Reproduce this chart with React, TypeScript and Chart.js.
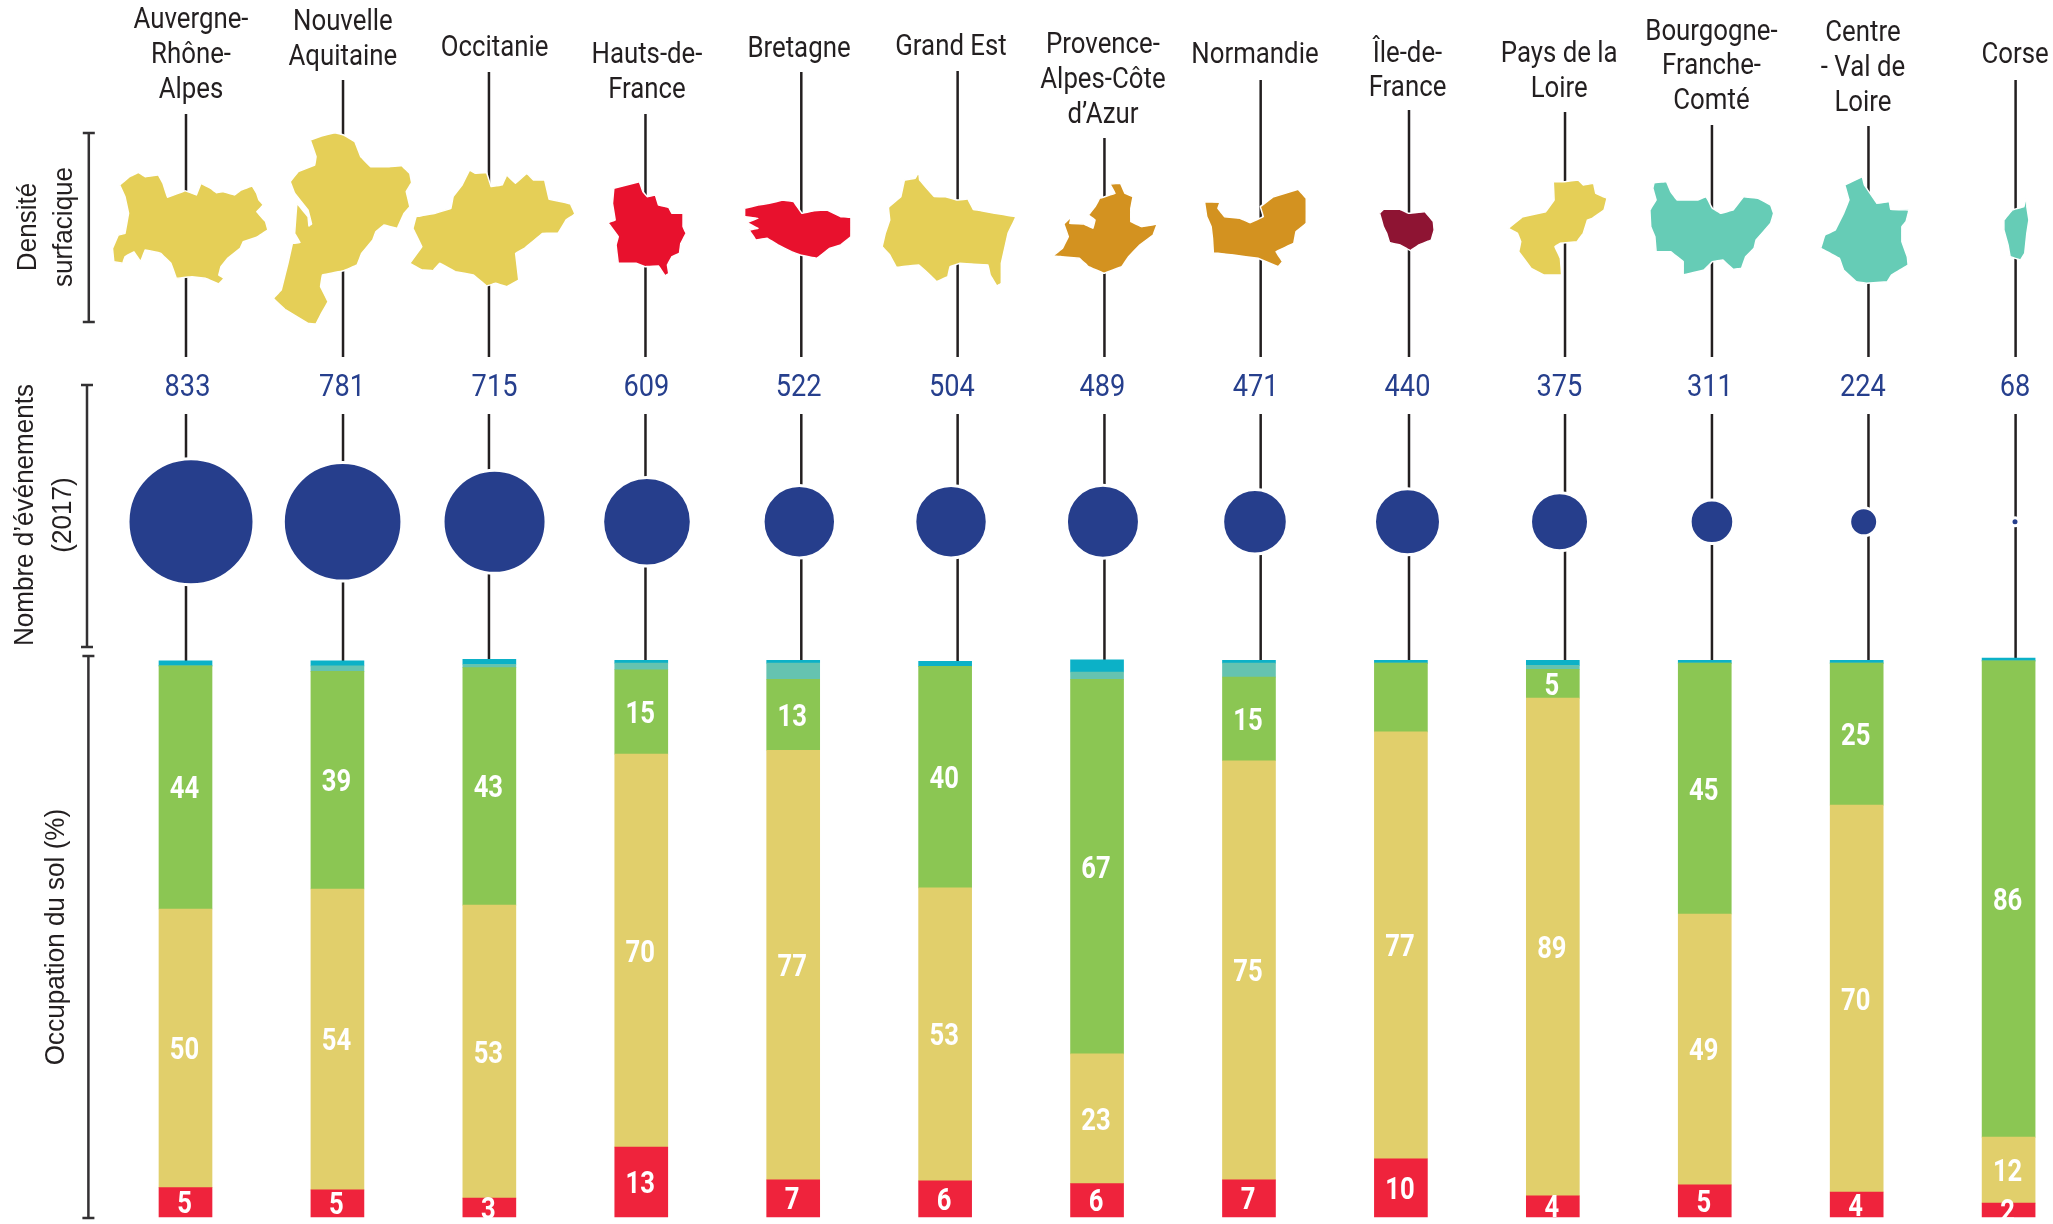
import React, { useEffect, useRef } from "react";
import { Chart, registerables } from "chart.js";

Chart.register(...registerables);

// ---------- data ----------
const regionLines: string[][] = [
  ["Auvergne-", "Rhône-", "Alpes"],
  ["Nouvelle", "Aquitaine"],
  ["Occitanie"],
  ["Hauts-de-", "France"],
  ["Bretagne"],
  ["Grand Est"],
  ["Provence-", "Alpes-Côte", "d’Azur"],
  ["Normandie"],
  ["Île-de-", "France"],
  ["Pays de la", "Loire"],
  ["Bourgogne-", "Franche-", "Comté"],
  ["Centre", "- Val de", "Loire"],
  ["Corse"],
];
const eventCounts = [833, 781, 715, 609, 522, 504, 489, 471, 440, 375, 311, 224, 68];
const eventRadius = [61.5, 57.8, 50, 42.8, 34.7, 34.7, 35, 30.8, 31.5, 27.5, 20.3, 12.5, 2.5];

const urbanValues = [5.3, 4.9, 3.4, 12.6, 6.7, 6.5, 6.0, 6.7, 10.5, 3.8, 5.8, 4.5, 2.5];
const farmValues = [50.2, 54.2, 52.8, 70.8, 77.4, 52.8, 23.4, 75.5, 76.9, 89.7, 48.8, 69.7, 11.9];
const forestValues = [43.8, 39.2, 42.8, 15.2, 12.8, 39.9, 67.5, 15.1, 12.4, 5.2, 45.2, 25.6, 85.8];
const wetValues = [0, 1.0, 0.6, 1.2, 2.9, 0, 1.3, 2.5, 0, 0.7, 0, 0, 0];
const waterValues = [0.9, 0.9, 0.9, 0.5, 0.5, 0.9, 2.2, 0.5, 0.5, 0.9, 0.5, 0.5, 0.5];

const urbanLabels = [5, 5, 3, 13, 7, 6, 6, 7, 10, 4, 5, 4, 2];
const farmLabels = [50, 54, 53, 70, 77, 53, 23, 75, 77, 89, 49, 70, 12];
const forestLabels: (number | null)[] = [44, 39, 43, 15, 13, 40, 67, 15, null, 5, 45, 25, 86];

// Region outlines, as traced on the picture.
type Trace = number[][];
const outlines: Trace[] = [
  [[268,555],[290,530],[310,517],[325,530],[355,525],[365,550],[375,592],[415,572],[440,585],[450,550],[472,565],[485,578],[500,575],[525,585],[540,570],[565,558],[575,580],[580,600],[590,615],[575,635],[595,665],[600,690],[575,712],[545,725],[538,745],[510,775],[495,800],[490,825],[502,835],[490,852],[460,835],[430,830],[395,835],[383,790],[360,760],[345,755],[325,750],[315,785],[300,755],[280,770],[275,790],[255,785],[252,745],[265,705],[280,700],[288,640],[280,590]],
  [[695,420],[720,408],[750,398],[770,405],[795,425],[808,470],[830,500],[870,500],[900,497],[918,520],[922,548],[910,575],[918,620],[905,640],[890,685],[860,675],[842,695],[835,720],[810,760],[800,795],[770,812],[722,825],[718,860],[735,905],[720,940],[708,972],[690,970],[640,930],[612,895],[630,870],[645,790],[655,730],[672,728],[660,700],[665,610],[690,650],[692,678],[698,672],[690,630],[660,580],[650,545],[668,515],[705,495],[708,470]],
  [[1052,510],[1065,520],[1090,518],[1100,560],[1125,555],[1135,525],[1155,550],[1180,520],[1195,540],[1220,540],[1230,598],[1258,605],[1278,612],[1288,642],[1268,660],[1250,700],[1215,700],[1175,745],[1155,760],[1162,840],[1135,860],[1110,850],[1090,858],[1060,825],[1020,815],[985,790],[970,812],[945,810],[918,790],[945,740],[925,685],[932,650],[975,640],[1010,625],[1015,590],[1035,555]],
  [[1375,565],[1432,545],[1440,575],[1450,590],[1468,585],[1475,615],[1498,622],[1505,640],[1530,640],[1530,680],[1537,700],[1525,730],[1522,760],[1505,770],[1495,795],[1498,820],[1490,828],[1475,798],[1445,800],[1425,790],[1385,790],[1380,735],[1385,710],[1362,668],[1378,660],[1372,610]],
  [[100,625],[130,615],[155,610],[185,600],[210,605],[228,640],[255,632],[285,630],[315,650],[338,652],[338,710],[315,735],[290,745],[262,775],[225,765],[205,755],[175,735],[150,715],[125,720],[110,690],[130,685],[105,668],[130,655],[100,650]],
  [[490,515],[492,540],[505,560],[525,590],[550,590],[575,600],[600,597],[612,628],[630,632],[660,640],[708,650],[690,700],[675,790],[675,850],[665,858],[650,825],[645,795],[582,790],[560,800],[555,830],[530,845],[515,825],[490,795],[440,802],[425,765],[408,740],[415,700],[425,660],[422,622],[450,590],[458,540],[482,535]],
  [[918,552],[942,550],[952,580],[970,590],[965,625],[965,665],[990,680],[1024,672],[1015,705],[985,735],[960,770],[945,800],[905,820],[870,800],[850,775],[810,770],[790,768],[812,745],[825,710],[815,672],[832,650],[828,670],[860,672],[880,685],[885,660],[870,645],[885,620],[895,595],[930,580]],
  [[1130,605],[1165,607],[1160,625],[1175,650],[1210,655],[1232,668],[1262,650],[1255,620],[1285,590],[1340,568],[1358,595],[1358,670],[1335,695],[1330,730],[1290,755],[1300,775],[1305,785],[1295,800],[1250,775],[1195,765],[1160,760],[1150,760],[1148,715],[1145,680],[1135,650]],
  [[-49,640],[-40,628],[0,628],[20,640],[60,635],[80,665],[82,690],[75,720],[45,735],[25,752],[0,735],[-25,728],[-32,700],[-40,680]],
  [[368,545],[395,545],[428,540],[440,555],[465,550],[470,580],[497,595],[490,630],[462,655],[450,660],[440,700],[425,725],[385,730],[372,740],[385,775],[388,825],[345,825],[315,805],[285,755],[290,725],[282,700],[260,685],[295,650],[350,635],[370,600]],
  [[610,548],[640,545],[650,575],[665,600],[715,600],[735,590],[750,625],[770,640],[800,630],[825,590],[860,595],[890,615],[897,640],[890,670],[855,720],[850,745],[830,770],[820,805],[800,808],[775,780],[750,785],[730,810],[680,825],[680,785],[650,755],[615,755],[612,710],[602,680],[600,630],[615,600],[607,565]],
  [[1110,530],[1115,555],[1145,610],[1175,605],[1178,628],[1222,630],[1215,665],[1205,680],[1205,725],[1218,770],[1220,795],[1180,825],[1170,845],[1120,850],[1095,845],[1065,810],[1055,775],[1010,745],[1020,705],[1045,690],[1065,640],[1078,600],[1068,555]],
  [[1505,585],[1505,620],[1510,660],[1505,700],[1500,760],[1490,780],[1465,770],[1460,735],[1450,690],[1450,660],[1470,630],[1498,620]],
];

// ---------- layout and styles ----------
const W = 2053;
const H = 1224;
const COL = 151.925;
const FIRST = 185.5;
const TRACE_FRAME = [0, 0, 0, 0, 1, 1, 1, 1, 2, 2, 2, 2, 2];
const FRAME_ORIGIN = [0, 700, 1400];
const FRAME_SCALE = [2.24, 2.24, 2.401];

const connectorNudge = [0.5, 5.6, -0.4, 4.2, 8.1, 12.5, 7.4, 11.7, 8.1, 12.2, 7.2, 11.8, 7];
const connectorTop = [114, 80, 72, 114, 72, 71, 138, 80, 110, 112, 125, 126, 80];
const barTop = [661, 661, 659, 660, 660, 661, 660, 660, 660, 660, 660, 660, 658];
const headNudge = [5.5, 5.4, 5.2, 5.7, 5.8, 5.9, 5.9, 6, 6.6, 6.4, 6.7, 6.3, 6.4];
const countNudge = [2, 4.6, 5.2, 5.1, 5.5, 6.7, 5.3, 6.6, 6.6, 6.6, 5.2, 6.3, 6.4];
const circleNudge = [5.5, 5.2, 5.2, 5.7, 6.1, 5.9, 5.9, 6, 6.6, 6.7, 7.2, 7, 6.4];
const headY: number[][] = [
  [20.5, 55.5, 90.5], [22.5, 57.5], [48], [55.5, 90.5], [49], [47.5], [45.5, 80.5, 115.5], [55.5], [54.5, 88.5], [54.5, 89.5], [32.5, 66.5, 101.5], [33.5, 68.5, 103.5], [55.5],
];
const mapColours = ["#E5CF57", "#E5CF57", "#E5CF57", "#E8112D", "#E8112D", "#E5CF57", "#D39220", "#D39220", "#8E1433", "#E5CF57", "#66CCB6", "#66CCB6", "#66CCB6"];

const INK = "#231F20";
const NAVY = "#263F8D";

const range = eventCounts.map((_, i) => i);

function drawText(ctx: CanvasRenderingContext2D, text: string, x: number, y: number, font: string, color: string, squeeze = 1, rotate = 0, baseline: CanvasTextBaseline = "middle") {
  ctx.save();
  ctx.translate(x, y);
  if (rotate) ctx.rotate(rotate);
  ctx.scale(squeeze, 1);
  ctx.font = font;
  ctx.fillStyle = color;
  ctx.textAlign = "center";
  ctx.textBaseline = baseline;
  ctx.fillText(text, 0, 0);
  ctx.restore();
}

const annotations = {
  id: "annotations",
  afterDatasetsDraw(chart: any) {
    const ctx: CanvasRenderingContext2D = chart.ctx;
    const xs = chart.scales.x;
    const ys = chart.scales.yPage;
    const px = (i: number, nudge: number) => xs.getPixelForValue(i + nudge / COL);

    // Region names and event counts
    range.forEach((i) => {
      regionLines[i].forEach((line, k) => {
        drawText(ctx, line, px(i, headNudge[i]), ys.getPixelForValue(headY[i][k]), "400 30px Roboto", INK, 0.86);
      });
      drawText(ctx, String(eventCounts[i]), px(i, countNudge[i]), ys.getPixelForValue(387.5), "400 32px Roboto", NAVY, 0.85);
    });

    // Segment values
    const rows: [number, (number | null)[]][] = [[0, urbanLabels], [1, farmLabels], [2, forestLabels]];
    rows.forEach(([ds, labels]) => {
      const meta = chart.getDatasetMeta(ds);
      labels.forEach((v, i) => {
        if (v === null) return;
        const bar = meta.data[i];
        drawText(ctx, String(v), bar.x - 1, (bar.y + bar.base) / 2 + 3, "700 32px Roboto", "#FFFFFF", 0.8);
      });
    });

    // Row brackets
    ctx.save();
    ctx.strokeStyle = "#333133";
    ctx.lineWidth = 2.5;
    const bracket = (x: number, top: number, bottom: number) => {
      ctx.beginPath();
      ctx.moveTo(x, top); ctx.lineTo(x, bottom);
      ctx.moveTo(x - 6, top); ctx.lineTo(x + 6, top);
      ctx.moveTo(x - 6, bottom); ctx.lineTo(x + 6, bottom);
      ctx.stroke();
    };
    bracket(88.8, ys.getPixelForValue(133), ys.getPixelForValue(322));
    bracket(87, ys.getPixelForValue(385), ys.getPixelForValue(647));
    bracket(88.4, ys.getPixelForValue(656), ys.getPixelForValue(1218));
    ctx.restore();

    // Row titles
    const titleFont = "400 27px 'Liberation Sans'";
    const up = -Math.PI / 2;
    drawText(ctx, "Densité", 36, 227, titleFont, INK, 0.965, up, "alphabetic");
    drawText(ctx, "surfacique", 72, 227, titleFont, INK, 0.965, up, "alphabetic");
    drawText(ctx, "Nombre d’événements", 33, 515, titleFont, INK, 0.965, up, "alphabetic");
    drawText(ctx, "(2017)", 71, 515, titleFont, INK, 0.965, up, "alphabetic");
    drawText(ctx, "Occupation du sol (%)", 64, 937, titleFont, INK, 0.965, up, "alphabetic");
  },
};

function barSet(label: string, values: number[], color: string) {
  return {
    type: "bar",
    label,
    data: range.map((i) => ({ x: i, y: values[i] })),
    backgroundColor: color,
    borderWidth: 0,
    barThickness: 53,
    xAxisID: "x",
    yAxisID: "y",
    order: 3,
  };
}

export default function App() {
  const ref = useRef<HTMLCanvasElement | null>(null);
  useEffect(() => {
    if (!ref.current) return;
    const connectors = range.map((i) => {
      const x = i + connectorNudge[i] / COL;
      return {
        type: "line",
        data: [
          { x, y: connectorTop[i] },
          { x, y: 357 },
          { x, y: null },
          { x, y: 414 },
          { x, y: barTop[i] },
        ],
        borderColor: INK,
        borderWidth: 2.5,
        pointRadius: 0,
        fill: false,
        xAxisID: "x",
        yAxisID: "yPage",
        order: 5,
      };
    });
    const maps = range.map((i) => {
      const f = TRACE_FRAME[i];
      const pts = outlines[i].map(([a, b]) => ({
        x: (FRAME_ORIGIN[f] + a / FRAME_SCALE[f] - FIRST) / COL,
        y: b / 3,
      }));
      pts.push(pts[0]);
      return {
        type: "line",
        data: pts,
        borderColor: "#FFFFFF",
        borderWidth: 1.5,
        backgroundColor: mapColours[i],
        fill: "shape",
        tension: 0.01,
        pointRadius: 0,
        xAxisID: "x",
        yAxisID: "yPage",
        order: 2,
      };
    });
    const chart = new Chart(ref.current, {
      type: "bar",
      data: {
        datasets: [
          barSet("Territoires artificialisés", urbanValues, "#EF233C"),
          barSet("Territoires agricoles", farmValues, "#E1CF6B"),
          barSet("Forêts et milieux semi-naturels", forestValues, "#8BC653"),
          barSet("Zones humides", wetValues, "#65C3B0"),
          barSet("Surfaces en eau", waterValues, "#0CB1C7"),
          ...connectors,
          ...maps,
          {
            type: "bubble",
            data: range.map((i) => ({ x: i + circleNudge[i] / COL, y: 521.8, r: eventRadius[i] + 1.5 })),
            backgroundColor: "#263E8C",
            borderColor: "#FFFFFF",
            borderWidth: 3,
            xAxisID: "x",
            yAxisID: "yPage",
            order: 1,
          },
        ] as any,
      },
      options: {
        animation: false,
        responsive: false,
        events: [],
        layout: { padding: 0, autoPadding: false },
        plugins: { legend: { display: false }, tooltip: { enabled: false } },
        scales: {
          x: { type: "linear", display: false, stacked: true, offset: false, min: -FIRST / COL, max: (W - FIRST) / COL },
          y: { type: "linear", display: false, stacked: true, min: -(H - 1217) / 5.55, max: 1217 / 5.55 },
          yPage: { type: "linear", axis: "y", display: false, reverse: true, min: 0, max: H },
        },
      } as any,
      plugins: [annotations],
    });
    return () => chart.destroy();
  }, []);
  return (
    <canvas
      ref={ref}
      width={W}
      height={H}
      style={{ position: "absolute", left: 0, top: 0, display: "block" }}
    />
  );
}
